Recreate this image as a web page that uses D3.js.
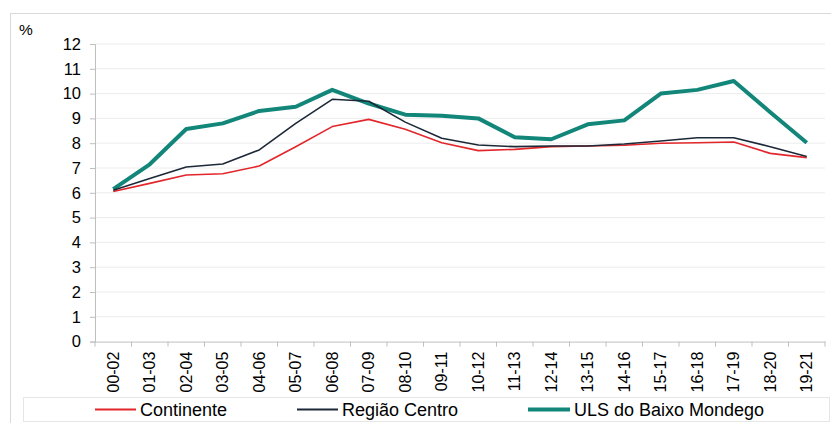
<!DOCTYPE html>
<html><head><meta charset="utf-8">
<script src="https://cdn.jsdelivr.net/npm/d3@7"></script>
<style>body{margin:0;background:#fff;}svg{display:block;font-family:"Liberation Sans",Arial,sans-serif;}</style>
</head><body>
<svg id="c" width="831" height="423"></svg>
<script>
const categories = ["00-02","01-03","02-04","03-05","04-06","05-07","06-08","07-09","08-10","09-11","10-12","11-13","12-14","13-15","14-16","15-17","16-18","17-19","18-20","19-21"];
const continente = [6.05,6.38,6.72,6.77,7.08,7.86,8.67,8.96,8.56,8.02,7.70,7.75,7.86,7.89,7.92,8.00,8.02,8.05,7.59,7.42];
const regiaoCentro = [6.10,6.58,7.04,7.16,7.73,8.80,9.77,9.69,8.85,8.20,7.93,7.86,7.89,7.89,7.97,8.09,8.22,8.22,7.86,7.46];
const uls = [6.15,7.15,8.57,8.80,9.30,9.47,10.15,9.60,9.15,9.11,9.00,8.24,8.16,8.76,8.92,10.00,10.15,10.51,9.25,8.02];
const yTicks = [0,1,2,3,4,5,6,7,8,9,10,11,12];
const seriesNames = ["Continente","Região Centro","ULS do Baixo Mondego"];

(function(){
const svg = d3.select("#c");
const pL = 95, pR = 825, pT = 44, pB = 341.6;

// outer frame
svg.append("rect").attr("x",10.5).attr("y",13.5).attr("width",830).attr("height",420)
  .attr("fill","none").attr("stroke","#d9d9d9").attr("stroke-width",1);

const x = d3.scaleBand().domain(categories).range([pL,pR]).padding(0);
const y = d3.scaleLinear().domain([0,12]).range([pB,pT]);

// gridlines
svg.append("g").selectAll("line").data(yTicks.filter(d=>d>0)).join("line")
  .attr("x1",pL).attr("x2",pR).attr("y1",d=>y(d)).attr("y2",d=>y(d))
  .attr("stroke","#ececec").attr("stroke-width",1);

// y axis
const ya = svg.append("g").attr("transform",`translate(${pL},0)`)
  .call(d3.axisLeft(y).tickValues(yTicks).tickSize(5).tickPadding(9));
ya.select(".domain").attr("stroke","#bfbfbf");
ya.selectAll(".tick line").attr("stroke","#bfbfbf");
ya.selectAll("text").attr("font-size","16.5px").attr("fill","#000").attr("font-family","Liberation Sans, Arial, sans-serif");

// x axis
const xa = svg.append("g").attr("transform",`translate(0,${pB})`)
  .call(d3.axisBottom(x).tickSize(0).tickPadding(0));
xa.select(".domain").attr("stroke","#bfbfbf");
xa.selectAll(".tick text").attr("font-size","16px").attr("fill","#000")
  .attr("font-family","Liberation Sans, Arial, sans-serif")
  .attr("text-anchor","end").attr("dy","0.35em")
  .attr("transform","translate(0,10) rotate(-90)").attr("x",0).attr("y",0);
// boundary ticks
svg.append("g").selectAll("line").data(d3.range(categories.length+1)).join("line")
  .attr("x1",i=>pL+i*x.bandwidth()).attr("x2",i=>pL+i*x.bandwidth())
  .attr("y1",pB).attr("y2",pB+5).attr("stroke","#bfbfbf");

// % label
svg.append("text").attr("x",19).attr("y",35).attr("font-size","15.5px").text("%");

const cx = d => x(d)+x.bandwidth()/2;
const line = d3.line().x((d,i)=>cx(categories[i])).y(d=>y(d));
const series = [
  {name:seriesNames[0], values:continente, color:"#e3262b", w:1.6},
  {name:seriesNames[1], values:regiaoCentro, color:"#1c2838", w:1.6},
  {name:seriesNames[2], values:uls, color:"#13867a", w:4}
];
const order = [series[2], series[0], series[1]];
svg.append("g").selectAll("path").data(order).join("path")
  .attr("d",d=>line(d.values)).attr("fill","none").attr("stroke",d=>d.color)
  .attr("stroke-width",d=>d.w).attr("stroke-linejoin","round");

// legend box
svg.append("rect").attr("x",23.5).attr("y",397.5).attr("width",806).attr("height",24)
  .attr("fill","none").attr("stroke","#e6e6e6");
const legendPos = [{lx:95,tx:140},{lx:297,tx:342},{lx:528,tx:574}];
series.forEach((s,i)=>{
  const p = legendPos[i];
  svg.append("line").attr("x1",p.lx).attr("x2",p.tx-4).attr("y1",409.5).attr("y2",409.5)
    .attr("stroke",s.color).attr("stroke-width",s.w===4?4:2);
  svg.append("text").attr("x",p.tx).attr("y",416).attr("font-size","18px").text(s.name);
});
})();
</script>
</body></html>
